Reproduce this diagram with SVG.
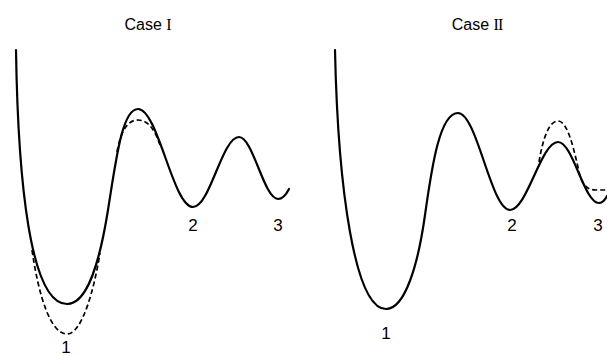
<svg xmlns="http://www.w3.org/2000/svg" width="607" height="356" viewBox="0 0 607 356">
<style>
.solid{fill:none;stroke:#000;stroke-width:2.2;stroke-linecap:round;stroke-linejoin:round}
.dash{fill:none;stroke:#000;stroke-width:1.7;stroke-dasharray:5 3}
.title{font-family:"Liberation Sans",Arial,sans-serif;font-size:16px;fill:#000;text-anchor:middle}
.rn{font-family:"Liberation Serif","Times New Roman",serif}
.lbl{font-family:"Liberation Sans",Arial,sans-serif;font-size:17px;fill:#000;text-anchor:middle}
</style>
<rect width="607" height="356" fill="#fff"/>
<g id="case1">
<text class="title" x="148" y="30">Case <tspan class="rn">I</tspan></text>
<path class="solid" d="M16,50 C18,180 30,304 67,304 C88,304 100,260 108,210 C116,160 122,109 138,109 C158,109 173,207 193,207 C210,207 222,137 239,137 C253,137 264,199 278,199 C283,199 286,195 289,189"/>
<path class="dash" d="M32,250 C39,298 51,334 67,334 C82,334 94,290 100,253"/>
<path class="dash" d="M117,152 C121,130 128,120 138,120 C148,120 155,130 160,145"/>
<text class="lbl" x="66" y="353">1</text>
<text class="lbl" x="193" y="231">2</text>
<text class="lbl" x="278" y="231">3</text>
</g>
<g id="case2">
<text class="title" x="477" y="30">Case <tspan class="rn" letter-spacing="-1">II</tspan></text>
<path class="solid" d="M335,50 C338,190 355,309 386,309 C405,309 418,265 425,215 C432,165 440,113 458,113 C477,113 491,210 510,210 C527,210 541,142 558,142 C573,142 584,203 599,203 C603,203 605,200 607,196"/>
<path class="dash" d="M539,162 C543,138 549,121 558,121 C568,121 574,150 580,176 C583,186 588,190 596,190 L607,190"/>
<text class="lbl" x="386" y="339">1</text>
<text class="lbl" x="512" y="231">2</text>
<text class="lbl" x="598" y="231">3</text>
</g>
</svg>
